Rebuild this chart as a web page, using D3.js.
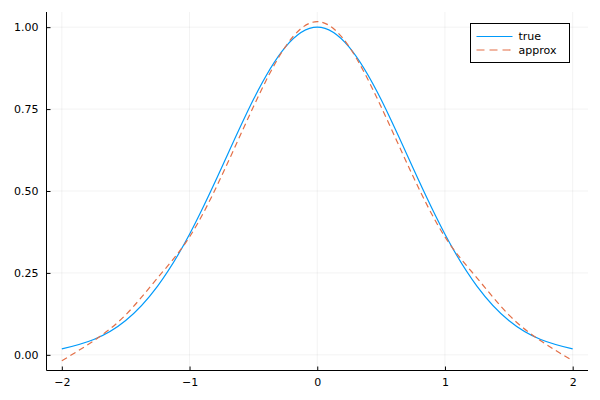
<!DOCTYPE html>
<html>
<head>
<meta charset="utf-8">
<script src="https://cdn.jsdelivr.net/npm/d3@7"></script>
<style>
  body { margin: 0; background: #fff; }
  text { font-family: "DejaVu Sans", sans-serif; font-size: 11px; fill: #000; }
</style>
</head>
<body>
<script>
var width = 600, height = 400;

// values
var xs = [-2, -1.75, -1.5, -1.25, -1, -0.75, -0.5, -0.25, 0, 0.25, 0.5, 0.75, 1, 1.25, 1.5, 1.75, 2];
var trueVals = [0.018, 0.047, 0.105, 0.21, 0.368, 0.57, 0.779, 0.939, 1.0, 0.939, 0.779, 0.57, 0.368, 0.21, 0.105, 0.047, 0.018];
var approxVals = [-0.018, 0.043, 0.122, 0.235, 0.36, 0.545, 0.757, 0.94, 1.017, 0.94, 0.757, 0.545, 0.36, 0.235, 0.122, 0.043, -0.018];
var xTicks = [-2, -1, 0, 1, 2];
var yTicks = [0, 0.25, 0.5, 0.75, 1.0];
var seriesNames = ["true", "approx"];
var colors = ["#009AFA", "#E36F47"];

var svg = d3.select("body").append("svg")
    .attr("width", width)
    .attr("height", height);

var plotLeft = 46.5, plotRight = 588, plotTop = 12, plotBottom = 370.5;

var x = d3.scaleLinear().domain([-2.12, 2.12]).range([plotLeft, plotRight]);
var y = d3.scaleLinear().domain([-0.0478, 1.0463]).range([plotBottom, plotTop]);

// grid
svg.append("g").selectAll("line").data(xTicks).enter().append("line")
    .attr("x1", function (d) { return x(d); }).attr("x2", function (d) { return x(d); })
    .attr("y1", plotTop).attr("y2", plotBottom)
    .style("stroke", "#000").style("stroke-opacity", 0.1).style("stroke-width", 0.5);
svg.append("g").selectAll("line").data(yTicks).enter().append("line")
    .attr("y1", function (d) { return y(d); }).attr("y2", function (d) { return y(d); })
    .attr("x1", plotLeft).attr("x2", plotRight)
    .style("stroke", "#000").style("stroke-opacity", 0.1).style("stroke-width", 0.5);

// axes
var xAxis = d3.axisBottom(x).tickValues(xTicks).tickSizeInner(-4).tickSizeOuter(0).tickPadding(8)
    .tickFormat(function (d) { return d < 0 ? "\u2212" + Math.abs(d) : d; });
var yAxis = d3.axisLeft(y).tickValues(yTicks).tickSizeInner(-4).tickSizeOuter(0).tickPadding(8)
    .tickFormat(d3.format(".2f"));

var gx = svg.append("g").attr("transform", "translate(0," + plotBottom + ")").call(xAxis);
var gy = svg.append("g").attr("transform", "translate(" + plotLeft + ",0)").call(yAxis);
gx.select(".domain").attr("d", "M" + plotLeft + ",0H" + plotRight).style("stroke", "#000");
gy.select(".domain").attr("d", "M0," + plotBottom + "V" + plotTop).style("stroke", "#000");
svg.selectAll(".tick line").style("stroke", "#000");
svg.selectAll(".tick text").style("font-family", "DejaVu Sans, sans-serif").style("font-size", "11px").style("fill", "#000");

// lines
var line = d3.line().curve(d3.curveNatural);
var series = [trueVals, approxVals];
svg.append("g").selectAll("path").data(series).enter().append("path")
    .attr("d", function (vals) {
        return line(vals.map(function (v, i) { return [x(xs[i]), y(v)]; }));
    })
    .style("fill", "none")
    .style("stroke", function (d, i) { return colors[i]; })
    .style("stroke-width", 1.2)
    .style("stroke-dasharray", function (d, i) { return i === 1 ? "6,4" : null; });

// legend
var lg = svg.append("g").attr("transform", "translate(470.5,23.5)");
lg.append("rect").attr("width", 99).attr("height", 39)
    .style("fill", "#fff").style("stroke", "#000").style("stroke-width", 1);
seriesNames.forEach(function (name, i) {
    var yy = 13 + i * 13.5;
    lg.append("line").attr("x1", 6).attr("x2", 42).attr("y1", yy).attr("y2", yy)
        .style("stroke", colors[i]).style("stroke-width", 1.2)
        .style("stroke-dasharray", i === 1 ? "8,5" : null);
    lg.append("text").attr("x", 48).attr("y", yy).attr("dy", "0.35em").text(name);
});
</script>
</body>
</html>
